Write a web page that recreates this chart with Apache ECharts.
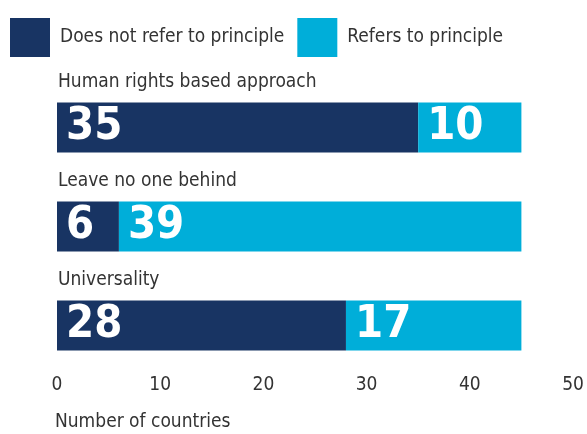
<!DOCTYPE html>
<html>
<head>
<meta charset="utf-8">
<script src="https://cdn.jsdelivr.net/npm/echarts@6/dist/echarts.min.js"></script>
<style>
  html, body { margin: 0; padding: 0; background: #fff; }
  #chart { width: 587px; height: 434px; }
</style>
</head>
<body>
<div id="chart"></div>
<script>
// Dados do gráfico
const categories = ['Human rights based approach', 'Leave no one behind', 'Universality'];
const seriesNames = ['Does not refer to principle', 'Refers to principle'];
const notRefer = [35, 6, 28];
const refers = [10, 39, 17];
const axisName = 'Number of countries';

const FONT = "'DejaVu Sans Condensed', sans-serif";
const TEXT = '#333333';
const NAVY = '#183463';
const CYAN = '#00aed9';
const FS = 19;

document.addEventListener('DOMContentLoaded', () => {
    const el = document.getElementById('chart');
    if (!el) return;
    const chart = echarts.init(el, null, { renderer: 'canvas' });

    const valueLabel = {
        show: true,
        position: 'insideLeft',
        distance: 9,
        color: '#fff',
        fontFamily: FONT,
        fontWeight: 'bold',
        fontSize: 45
    };

    const option = {
        animation: false,
        textStyle: { fontFamily: FONT },
        // nome do eixo como título (posição fixa embaixo à esquerda)
        title: {
            text: axisName,
            left: 50,
            top: 413,
            padding: [0, 0, 0, 5],
            textStyle: { fontFamily: FONT, fontSize: FS, fontWeight: 'normal', color: TEXT }
        },
        legend: {
            left: 5,
            top: 13,
            width: 575,
            itemWidth: 40,
            itemHeight: 39,
            itemGap: 13,
            icon: 'rect',
            textStyle: { fontFamily: FONT, fontSize: FS, color: TEXT, padding: [0, 0, 0, 5] },
            data: seriesNames
        },
        grid: { left: 57, right: 14, top: 78, bottom: 59, containLabel: false, outerBoundsMode: 'none' },
        xAxis: {
            type: 'value',
            min: 0,
            max: 50,
            interval: 10,
            axisLine: { show: false },
            axisTick: { show: false },
            splitLine: { show: false },
            axisLabel: { fontFamily: FONT, fontSize: FS, color: TEXT, margin: 1 }
        },
        yAxis: {
            type: 'category',
            inverse: true,
            data: categories,
            z: 10,
            axisLine: { show: false },
            axisTick: { show: false },
            axisLabel: {
                inside: true,
                interval: 0,
                margin: 1,
                align: 'left',
                verticalAlign: 'bottom',
                lineHeight: 90,
                fontFamily: FONT,
                fontSize: FS,
                color: TEXT
            }
        },
        series: [
            {
                name: seriesNames[0],
                type: 'bar',
                stack: 'total',
                barWidth: 50,
                itemStyle: { color: NAVY },
                label: valueLabel,
                data: notRefer
            },
            {
                name: seriesNames[1],
                type: 'bar',
                stack: 'total',
                barWidth: 50,
                itemStyle: { color: CYAN },
                label: valueLabel,
                data: refers
            }
        ]
    };

    chart.setOption(option, true);
});
</script>
</body>
</html>
